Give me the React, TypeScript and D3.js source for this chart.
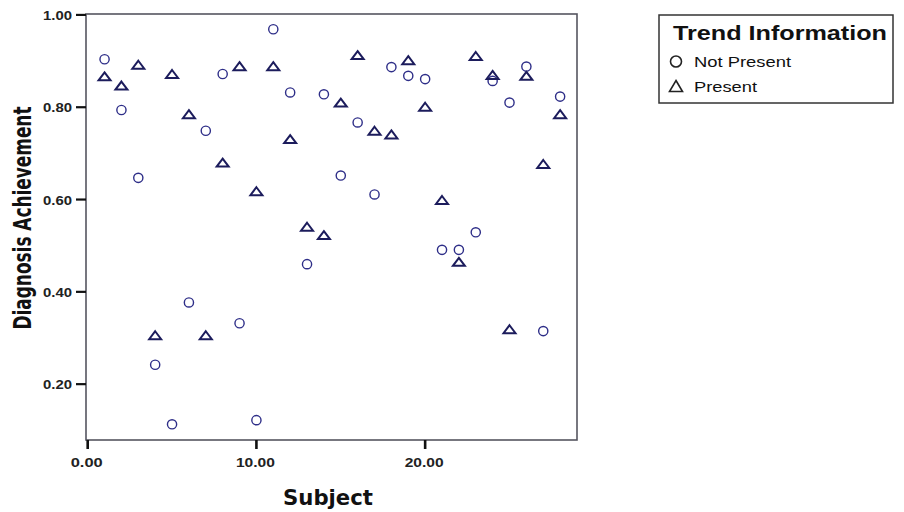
import React, { useEffect, useRef } from "react";
import { select, scaleLinear, format } from "d3";

// subject number on x, diagnosis achievement on y
const subjects = [1, 2, 3, 4, 5, 6, 7, 8, 9, 10, 11, 12, 13, 14, 15, 16, 17, 18, 19, 20, 21, 22, 23, 24, 25, 26, 27, 28];
const notPresent = [0.904, 0.794, 0.647, 0.242, 0.113, 0.377, 0.749, 0.872, 0.332, 0.122, 0.969, 0.832, 0.46, 0.828, 0.652, 0.767, 0.611, 0.887, 0.868, 0.861, 0.491, 0.491, 0.529, 0.857, 0.81, 0.888, 0.315, 0.823];
const present = [0.867, 0.847, 0.892, 0.306, 0.872, 0.785, 0.306, 0.68, 0.889, 0.618, 0.889, 0.731, 0.541, 0.523, 0.81, 0.913, 0.749, 0.741, 0.902, 0.801, 0.599, 0.465, 0.911, 0.87, 0.319, 0.868, 0.677, 0.785];
const xTicks = [0, 10, 20];
const yTicks = [0.2, 0.4, 0.6, 0.8, 1.0];
const legendLabels = ["Not Present", "Present"];

const TRI = "M0,-4L6,4L-6,4Z";

function App() {
  const svgRef = useRef<SVGSVGElement>(null);

  useEffect(() => {
    const svg = select(svgRef.current);
    svg.selectAll("*").remove();

    const PLOT = { left: 86, right: 577, top: 14, bottom: 440 };
    const xScale = scaleLinear().domain([-0.1, 29]).range([PLOT.left, PLOT.right]);
    const yScale = scaleLinear().domain([0.079, 1.002]).range([PLOT.bottom, PLOT.top]);
    const fmt = format(".2f");
    const FONT = "'DejaVu Sans', Verdana, sans-serif";
    const ARIAL = "'Liberation Sans', Arial, sans-serif";

    // frame
    svg.append("rect")
      .attr("x", PLOT.left).attr("y", PLOT.top)
      .attr("width", PLOT.right - PLOT.left).attr("height", PLOT.bottom - PLOT.top)
      .attr("fill", "white").attr("stroke", "#555560").attr("stroke-width", 1.6);

    // y ticks
    const yAxis = svg.append("g");
    yAxis.selectAll("line").data(yTicks).join("line")
      .attr("x1", PLOT.left - 10).attr("x2", PLOT.left)
      .attr("y1", d => yScale(d)).attr("y2", d => yScale(d))
      .attr("stroke", "#111").attr("stroke-width", 2.2);
    yAxis.selectAll("text").data(yTicks).join("text")
      .attr("x", 72).attr("y", d => yScale(d) + 5)
      .attr("text-anchor", "end")
      .attr("font-family", ARIAL).attr("font-size", 13.5).attr("font-weight", "bold")
      .attr("fill", "#222")
      .attr("textLength", 29).attr("lengthAdjust", "spacingAndGlyphs")
      .text(d => fmt(d));

    // x ticks
    const xAxis = svg.append("g");
    xAxis.selectAll("line").data(xTicks).join("line")
      .attr("x1", d => xScale(d)).attr("x2", d => xScale(d))
      .attr("y1", PLOT.bottom).attr("y2", PLOT.bottom + 9)
      .attr("stroke", "#111").attr("stroke-width", 2.6);
    xAxis.selectAll("text").data(xTicks).join("text")
      .attr("x", d => xScale(d) - 1).attr("y", 467)
      .attr("text-anchor", "middle")
      .attr("font-family", ARIAL).attr("font-size", 13.5).attr("font-weight", "bold")
      .attr("fill", "#222")
      .attr("textLength", d => (d === 0 ? 32 : 39)).attr("lengthAdjust", "spacingAndGlyphs")
      .text(d => fmt(d));

    // axis titles
    svg.append("text")
      .attr("transform", "translate(31, 218) rotate(-90)")
      .attr("text-anchor", "middle")
      .attr("font-family", FONT).attr("font-size", 24).attr("font-weight", "bold")
      .attr("fill", "#111")
      .attr("textLength", 223).attr("lengthAdjust", "spacingAndGlyphs")
      .text("Diagnosis Achievement");
    svg.append("text")
      .attr("x", 328).attr("y", 505)
      .attr("text-anchor", "middle")
      .attr("font-family", FONT).attr("font-size", 22).attr("font-weight", "bold")
      .attr("fill", "#111")
      .attr("textLength", 90).attr("lengthAdjust", "spacingAndGlyphs")
      .text("Subject");

    // points
    svg.append("g").selectAll("circle").data(subjects).join("circle")
      .attr("cx", (d) => xScale(d))
      .attr("cy", (d, i) => yScale(notPresent[i]))
      .attr("r", 4.6)
      .attr("fill", "none").attr("stroke", "#2e2e88").attr("stroke-width", 1.4);
    svg.append("g").selectAll("path").data(subjects).join("path")
      .attr("d", TRI)
      .attr("transform", (d, i) => `translate(${xScale(d)},${yScale(present[i])})`)
      .attr("fill", "none").attr("stroke", "#1c1c5c").attr("stroke-width", 2)
      .attr("stroke-linejoin", "miter");

    // legend
    const legend = svg.append("g");
    legend.append("rect")
      .attr("x", 659).attr("y", 15).attr("width", 234).attr("height", 88)
      .attr("fill", "white").attr("stroke", "#333").attr("stroke-width", 1.5);
    legend.append("text")
      .attr("x", 673).attr("y", 40)
      .attr("font-family", ARIAL).attr("font-size", 20).attr("font-weight", "bold")
      .attr("fill", "#111")
      .attr("textLength", 214).attr("lengthAdjust", "spacingAndGlyphs")
      .text("Trend Information");
    legend.append("circle")
      .attr("cx", 676).attr("cy", 61.5).attr("r", 5.5)
      .attr("fill", "none").attr("stroke", "#222").attr("stroke-width", 1.6);
    legend.append("path")
      .attr("d", "M0,-6L6.5,5L-6.5,5Z")
      .attr("transform", "translate(676,86.5)")
      .attr("fill", "none").attr("stroke", "#222").attr("stroke-width", 1.6);
    legend.selectAll(".lbl").data(legendLabels).join("text")
      .classed("lbl", true)
      .attr("x", 694).attr("y", (d, i) => 66.5 + i * 25)
      .attr("font-family", ARIAL).attr("font-size", 15)
      .attr("fill", "#111")
      .attr("textLength", (d, i) => (i === 0 ? 97 : 63)).attr("lengthAdjust", "spacingAndGlyphs")
      .text(d => d);
  }, []);

  return (
    <svg ref={svgRef} width={904} height={512} style={{ position: "absolute", left: 0, top: 0, background: "white" }}></svg>
  );
}

export default App;
